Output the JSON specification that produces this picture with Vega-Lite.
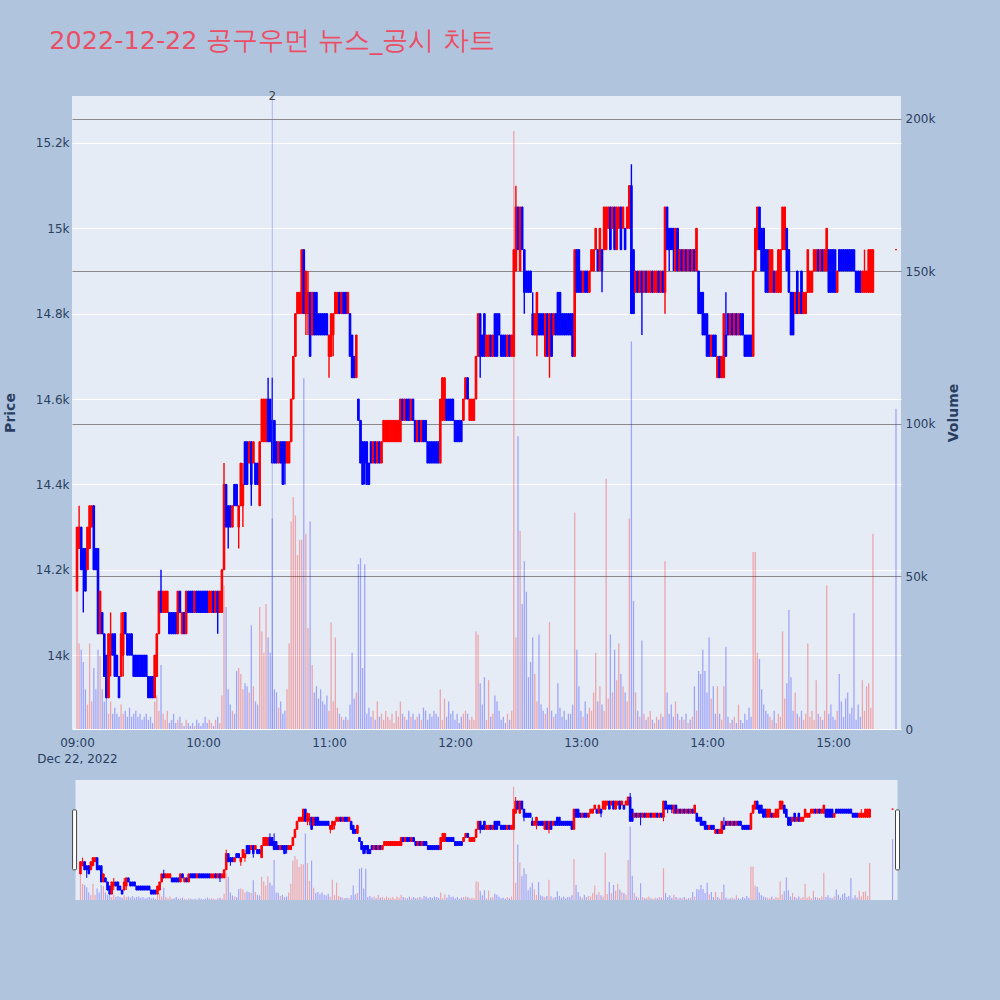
{
"$schema": "https://vega.github.io/schema/vega-lite/v6.json",
"background": "#b0c4de",
"padding": {"left": 3, "top": 28, "right": 40, "bottom": 108},
"bounds": "flush",
"center": true,
"spacing": 51,
"title": {"text": "2022-12-22 공구우먼 뉴스_공시 차트", "anchor": "start", "dx": 46, "font": "DejaVu Sans", "fontSize": 25.5, "fontWeight": "normal", "color": "#eb4f66", "offset": 36},
"config": {"view": {"stroke": null}, "axis": {"labelFont": "DejaVu Sans", "titleFont": "DejaVu Sans", "labelColor": "#2a3f5f", "titleColor": "#2a3f5f", "labelFontSize": 12}},
"datasets": {"news": [{"t": "2022-12-22T10:33", "n": "2"}], "handles": [{"t": "2022-12-22T08:57:10", "top": 14940, "bottom": 14200}, {"t": "2022-12-22T15:32:23", "top": 14940, "bottom": 14200}]},
"data": {"values": [
{"t":"2022-12-22T09:00","o":14150,"h":14300,"l":14150,"c":14300,"v":45000},
{"t":"2022-12-22T09:01","o":14250,"h":14350,"l":14250,"c":14300,"v":28000},
{"t":"2022-12-22T09:02","o":14300,"h":14300,"l":14200,"c":14200,"v":26000},
{"t":"2022-12-22T09:03","o":14250,"h":14250,"l":14100,"c":14200,"v":22000},
{"t":"2022-12-22T09:04","o":14250,"h":14250,"l":14150,"c":14150,"v":13000},
{"t":"2022-12-22T09:05","o":14200,"h":14300,"l":14200,"c":14300,"v":8000},
{"t":"2022-12-22T09:06","o":14250,"h":14350,"l":14250,"c":14350,"v":28000},
{"t":"2022-12-22T09:07","o":14300,"h":14350,"l":14300,"c":14350,"v":9000},
{"t":"2022-12-22T09:08","o":14350,"h":14350,"l":14200,"c":14200,"v":20000},
{"t":"2022-12-22T09:09","o":14250,"h":14250,"l":14200,"c":14200,"v":13000},
{"t":"2022-12-22T09:10","o":14250,"h":14250,"l":14050,"c":14050,"v":26000},
{"t":"2022-12-22T09:11","o":14050,"h":14150,"l":14050,"c":14150,"v":24000},
{"t":"2022-12-22T09:12","o":14100,"h":14100,"l":14050,"c":14050,"v":13000},
{"t":"2022-12-22T09:13","o":14050,"h":14050,"l":13950,"c":13950,"v":9000},
{"t":"2022-12-22T09:14","o":14000,"h":14000,"l":13900,"c":13900,"v":11000},
{"t":"2022-12-22T09:15","o":13900,"h":14050,"l":13900,"c":14050,"v":5000},
{"t":"2022-12-22T09:16","o":14000,"h":14100,"l":13950,"c":14050,"v":9000},
{"t":"2022-12-22T09:17","o":14050,"h":14050,"l":14000,"c":14000,"v":5000},
{"t":"2022-12-22T09:18","o":14050,"h":14050,"l":13950,"c":13950,"v":7000},
{"t":"2022-12-22T09:19","o":14000,"h":14000,"l":13950,"c":13950,"v":5000},
{"t":"2022-12-22T09:20","o":13950,"h":13950,"l":13900,"c":13900,"v":4000},
{"t":"2022-12-22T09:21","o":13950,"h":14100,"l":13950,"c":14050,"v":8000},
{"t":"2022-12-22T09:22","o":14000,"h":14100,"l":13950,"c":14100,"v":5000},
{"t":"2022-12-22T09:23","o":14100,"h":14100,"l":14050,"c":14050,"v":6000},
{"t":"2022-12-22T09:24","o":14050,"h":14050,"l":14000,"c":14000,"v":4000},
{"t":"2022-12-22T09:25","o":14050,"h":14050,"l":14000,"c":14000,"v":7000},
{"t":"2022-12-22T09:26","o":14050,"h":14050,"l":14000,"c":14000,"v":4000},
{"t":"2022-12-22T09:27","o":14000,"h":14000,"l":13950,"c":13950,"v":5000},
{"t":"2022-12-22T09:28","o":14000,"h":14000,"l":13950,"c":13950,"v":6000},
{"t":"2022-12-22T09:29","o":14000,"h":14000,"l":13950,"c":13950,"v":4000},
{"t":"2022-12-22T09:30","o":14000,"h":14000,"l":13950,"c":13950,"v":5000},
{"t":"2022-12-22T09:31","o":14000,"h":14000,"l":13950,"c":13950,"v":3000},
{"t":"2022-12-22T09:32","o":14000,"h":14000,"l":13950,"c":13950,"v":4000},
{"t":"2022-12-22T09:33","o":14000,"h":14000,"l":13950,"c":13950,"v":5000},
{"t":"2022-12-22T09:34","o":13950,"h":13950,"l":13900,"c":13900,"v":3000},
{"t":"2022-12-22T09:35","o":13950,"h":13950,"l":13900,"c":13900,"v":4000},
{"t":"2022-12-22T09:36","o":13950,"h":13950,"l":13900,"c":13900,"v":2000},
{"t":"2022-12-22T09:37","o":13900,"h":14000,"l":13900,"c":14000,"v":9000},
{"t":"2022-12-22T09:38","o":13950,"h":14050,"l":13950,"c":14050,"v":11000},
{"t":"2022-12-22T09:39","o":14050,"h":14150,"l":14050,"c":14150,"v":6000},
{"t":"2022-12-22T09:40","o":14150,"h":14200,"l":14100,"c":14100,"v":21000},
{"t":"2022-12-22T09:41","o":14100,"h":14150,"l":14100,"c":14150,"v":5000},
{"t":"2022-12-22T09:42","o":14100,"h":14150,"l":14100,"c":14150,"v":3000},
{"t":"2022-12-22T09:43","o":14100,"h":14150,"l":14100,"c":14150,"v":6000},
{"t":"2022-12-22T09:44","o":14100,"h":14100,"l":14050,"c":14050,"v":2000},
{"t":"2022-12-22T09:45","o":14100,"h":14100,"l":14050,"c":14050,"v":3000},
{"t":"2022-12-22T09:46","o":14100,"h":14100,"l":14050,"c":14050,"v":5000},
{"t":"2022-12-22T09:47","o":14100,"h":14100,"l":14050,"c":14050,"v":2000},
{"t":"2022-12-22T09:48","o":14050,"h":14150,"l":14050,"c":14150,"v":3000},
{"t":"2022-12-22T09:49","o":14150,"h":14150,"l":14100,"c":14100,"v":4000},
{"t":"2022-12-22T09:50","o":14050,"h":14100,"l":14050,"c":14100,"v":2000},
{"t":"2022-12-22T09:51","o":14100,"h":14100,"l":14050,"c":14050,"v":1000},
{"t":"2022-12-22T09:52","o":14050,"h":14150,"l":14050,"c":14150,"v":3000},
{"t":"2022-12-22T09:53","o":14150,"h":14150,"l":14100,"c":14100,"v":2000},
{"t":"2022-12-22T09:54","o":14150,"h":14150,"l":14100,"c":14100,"v":1000},
{"t":"2022-12-22T09:55","o":14150,"h":14150,"l":14100,"c":14100,"v":2000},
{"t":"2022-12-22T09:56","o":14100,"h":14150,"l":14100,"c":14150,"v":1000},
{"t":"2022-12-22T09:57","o":14150,"h":14150,"l":14100,"c":14100,"v":3000},
{"t":"2022-12-22T09:58","o":14150,"h":14150,"l":14100,"c":14100,"v":2000},
{"t":"2022-12-22T09:59","o":14150,"h":14150,"l":14100,"c":14100,"v":1000},
{"t":"2022-12-22T10:00","o":14150,"h":14150,"l":14100,"c":14100,"v":2000},
{"t":"2022-12-22T10:01","o":14150,"h":14150,"l":14100,"c":14100,"v":4000},
{"t":"2022-12-22T10:02","o":14150,"h":14150,"l":14100,"c":14100,"v":2000},
{"t":"2022-12-22T10:03","o":14100,"h":14150,"l":14100,"c":14150,"v":3000},
{"t":"2022-12-22T10:04","o":14100,"h":14150,"l":14100,"c":14150,"v":2000},
{"t":"2022-12-22T10:05","o":14150,"h":14150,"l":14100,"c":14100,"v":1000},
{"t":"2022-12-22T10:06","o":14100,"h":14150,"l":14100,"c":14150,"v":3000},
{"t":"2022-12-22T10:07","o":14150,"h":14150,"l":14050,"c":14100,"v":4000},
{"t":"2022-12-22T10:08","o":14100,"h":14150,"l":14100,"c":14150,"v":2000},
{"t":"2022-12-22T10:09","o":14100,"h":14200,"l":14100,"c":14200,"v":11000},
{"t":"2022-12-22T10:10","o":14200,"h":14450,"l":14200,"c":14400,"v":47000},
{"t":"2022-12-22T10:11","o":14400,"h":14400,"l":14300,"c":14300,"v":40000},
{"t":"2022-12-22T10:12","o":14350,"h":14350,"l":14250,"c":14300,"v":13000},
{"t":"2022-12-22T10:13","o":14350,"h":14350,"l":14300,"c":14300,"v":8000},
{"t":"2022-12-22T10:14","o":14300,"h":14350,"l":14300,"c":14350,"v":6000},
{"t":"2022-12-22T10:15","o":14400,"h":14400,"l":14350,"c":14350,"v":5000},
{"t":"2022-12-22T10:16","o":14400,"h":14400,"l":14350,"c":14350,"v":19000},
{"t":"2022-12-22T10:17","o":14300,"h":14350,"l":14250,"c":14350,"v":20000},
{"t":"2022-12-22T10:18","o":14350,"h":14450,"l":14350,"c":14450,"v":18000},
{"t":"2022-12-22T10:19","o":14350,"h":14450,"l":14300,"c":14400,"v":13000},
{"t":"2022-12-22T10:20","o":14500,"h":14500,"l":14400,"c":14400,"v":15000},
{"t":"2022-12-22T10:21","o":14500,"h":14500,"l":14400,"c":14400,"v":14000},
{"t":"2022-12-22T10:22","o":14450,"h":14500,"l":14450,"c":14500,"v":12000},
{"t":"2022-12-22T10:23","o":14500,"h":14500,"l":14350,"c":14400,"v":34000},
{"t":"2022-12-22T10:24","o":14450,"h":14500,"l":14450,"c":14500,"v":14000},
{"t":"2022-12-22T10:25","o":14450,"h":14450,"l":14400,"c":14400,"v":9000},
{"t":"2022-12-22T10:26","o":14450,"h":14450,"l":14400,"c":14400,"v":8000},
{"t":"2022-12-22T10:27","o":14350,"h":14500,"l":14350,"c":14500,"v":40000},
{"t":"2022-12-22T10:28","o":14500,"h":14600,"l":14500,"c":14600,"v":32000},
{"t":"2022-12-22T10:29","o":14500,"h":14600,"l":14500,"c":14600,"v":25000},
{"t":"2022-12-22T10:30","o":14500,"h":14600,"l":14500,"c":14600,"v":41000},
{"t":"2022-12-22T10:31","o":14600,"h":14650,"l":14500,"c":14500,"v":30000},
{"t":"2022-12-22T10:32","o":14600,"h":14600,"l":14500,"c":14500,"v":25000},
{"t":"2022-12-22T10:33","o":14550,"h":14650,"l":14450,"c":14450,"v":69000},
{"t":"2022-12-22T10:34","o":14550,"h":14550,"l":14450,"c":14450,"v":13000},
{"t":"2022-12-22T10:35","o":14500,"h":14500,"l":14450,"c":14450,"v":12000},
{"t":"2022-12-22T10:36","o":14450,"h":14500,"l":14450,"c":14500,"v":7000},
{"t":"2022-12-22T10:37","o":14500,"h":14500,"l":14450,"c":14450,"v":9000},
{"t":"2022-12-22T10:38","o":14500,"h":14500,"l":14400,"c":14400,"v":5000},
{"t":"2022-12-22T10:39","o":14500,"h":14500,"l":14400,"c":14450,"v":6000},
{"t":"2022-12-22T10:40","o":14450,"h":14500,"l":14450,"c":14500,"v":13000},
{"t":"2022-12-22T10:41","o":14450,"h":14500,"l":14450,"c":14500,"v":28000},
{"t":"2022-12-22T10:42","o":14500,"h":14600,"l":14500,"c":14600,"v":68000},
{"t":"2022-12-22T10:43","o":14600,"h":14700,"l":14600,"c":14700,"v":76000},
{"t":"2022-12-22T10:44","o":14700,"h":14800,"l":14700,"c":14800,"v":70000},
{"t":"2022-12-22T10:45","o":14800,"h":14850,"l":14800,"c":14850,"v":57000},
{"t":"2022-12-22T10:46","o":14800,"h":14850,"l":14800,"c":14850,"v":62000},
{"t":"2022-12-22T10:47","o":14800,"h":14950,"l":14800,"c":14950,"v":62000},
{"t":"2022-12-22T10:48","o":14950,"h":14950,"l":14800,"c":14800,"v":115000},
{"t":"2022-12-22T10:49","o":14800,"h":14900,"l":14750,"c":14900,"v":64000},
{"t":"2022-12-22T10:50","o":14800,"h":14900,"l":14750,"c":14850,"v":33000},
{"t":"2022-12-22T10:51","o":14850,"h":14850,"l":14700,"c":14700,"v":68000},
{"t":"2022-12-22T10:52","o":14750,"h":14850,"l":14750,"c":14850,"v":21000},
{"t":"2022-12-22T10:53","o":14850,"h":14850,"l":14750,"c":14750,"v":12000},
{"t":"2022-12-22T10:54","o":14850,"h":14850,"l":14750,"c":14750,"v":14000},
{"t":"2022-12-22T10:55","o":14800,"h":14800,"l":14750,"c":14750,"v":10000},
{"t":"2022-12-22T10:56","o":14800,"h":14800,"l":14750,"c":14750,"v":13000},
{"t":"2022-12-22T10:57","o":14800,"h":14800,"l":14750,"c":14750,"v":9000},
{"t":"2022-12-22T10:58","o":14800,"h":14800,"l":14750,"c":14750,"v":8000},
{"t":"2022-12-22T10:59","o":14800,"h":14800,"l":14750,"c":14750,"v":11000},
{"t":"2022-12-22T11:00","o":14700,"h":14750,"l":14650,"c":14750,"v":6000},
{"t":"2022-12-22T11:01","o":14700,"h":14800,"l":14700,"c":14800,"v":35000},
{"t":"2022-12-22T11:02","o":14750,"h":14800,"l":14700,"c":14800,"v":9000},
{"t":"2022-12-22T11:03","o":14800,"h":14850,"l":14800,"c":14850,"v":30000},
{"t":"2022-12-22T11:04","o":14800,"h":14850,"l":14800,"c":14850,"v":7000},
{"t":"2022-12-22T11:05","o":14850,"h":14850,"l":14800,"c":14800,"v":5000},
{"t":"2022-12-22T11:06","o":14800,"h":14850,"l":14800,"c":14850,"v":4000},
{"t":"2022-12-22T11:07","o":14850,"h":14850,"l":14800,"c":14800,"v":3000},
{"t":"2022-12-22T11:08","o":14850,"h":14850,"l":14800,"c":14800,"v":4000},
{"t":"2022-12-22T11:09","o":14800,"h":14850,"l":14800,"c":14850,"v":3000},
{"t":"2022-12-22T11:10","o":14800,"h":14800,"l":14700,"c":14700,"v":8000},
{"t":"2022-12-22T11:11","o":14750,"h":14750,"l":14650,"c":14650,"v":25000},
{"t":"2022-12-22T11:12","o":14700,"h":14700,"l":14650,"c":14650,"v":10000},
{"t":"2022-12-22T11:13","o":14650,"h":14750,"l":14650,"c":14750,"v":12000},
{"t":"2022-12-22T11:14","o":14600,"h":14600,"l":14550,"c":14550,"v":54000},
{"t":"2022-12-22T11:15","o":14550,"h":14550,"l":14450,"c":14450,"v":56000},
{"t":"2022-12-22T11:16","o":14500,"h":14500,"l":14400,"c":14400,"v":20000},
{"t":"2022-12-22T11:17","o":14500,"h":14500,"l":14400,"c":14450,"v":54000},
{"t":"2022-12-22T11:18","o":14500,"h":14500,"l":14400,"c":14400,"v":5000},
{"t":"2022-12-22T11:19","o":14450,"h":14450,"l":14400,"c":14400,"v":7000},
{"t":"2022-12-22T11:20","o":14500,"h":14500,"l":14450,"c":14450,"v":4000},
{"t":"2022-12-22T11:21","o":14450,"h":14500,"l":14450,"c":14500,"v":6000},
{"t":"2022-12-22T11:22","o":14500,"h":14500,"l":14450,"c":14450,"v":3000},
{"t":"2022-12-22T11:23","o":14450,"h":14500,"l":14450,"c":14500,"v":9000},
{"t":"2022-12-22T11:24","o":14500,"h":14500,"l":14450,"c":14450,"v":4000},
{"t":"2022-12-22T11:25","o":14450,"h":14500,"l":14450,"c":14500,"v":5000},
{"t":"2022-12-22T11:26","o":14500,"h":14550,"l":14500,"c":14550,"v":3000},
{"t":"2022-12-22T11:27","o":14500,"h":14550,"l":14500,"c":14550,"v":6000},
{"t":"2022-12-22T11:28","o":14500,"h":14550,"l":14500,"c":14550,"v":4000},
{"t":"2022-12-22T11:29","o":14500,"h":14550,"l":14500,"c":14550,"v":3000},
{"t":"2022-12-22T11:30","o":14500,"h":14550,"l":14500,"c":14550,"v":5000},
{"t":"2022-12-22T11:31","o":14500,"h":14550,"l":14500,"c":14550,"v":2000},
{"t":"2022-12-22T11:32","o":14500,"h":14550,"l":14500,"c":14550,"v":6000},
{"t":"2022-12-22T11:33","o":14500,"h":14550,"l":14500,"c":14550,"v":4000},
{"t":"2022-12-22T11:34","o":14500,"h":14600,"l":14500,"c":14600,"v":9000},
{"t":"2022-12-22T11:35","o":14600,"h":14600,"l":14550,"c":14550,"v":5000},
{"t":"2022-12-22T11:36","o":14550,"h":14600,"l":14550,"c":14600,"v":4000},
{"t":"2022-12-22T11:37","o":14600,"h":14600,"l":14550,"c":14550,"v":3000},
{"t":"2022-12-22T11:38","o":14600,"h":14600,"l":14550,"c":14550,"v":6000},
{"t":"2022-12-22T11:39","o":14550,"h":14600,"l":14550,"c":14600,"v":4000},
{"t":"2022-12-22T11:40","o":14600,"h":14600,"l":14550,"c":14550,"v":5000},
{"t":"2022-12-22T11:41","o":14550,"h":14550,"l":14500,"c":14500,"v":3000},
{"t":"2022-12-22T11:42","o":14500,"h":14550,"l":14500,"c":14550,"v":4000},
{"t":"2022-12-22T11:43","o":14550,"h":14550,"l":14500,"c":14500,"v":5000},
{"t":"2022-12-22T11:44","o":14500,"h":14550,"l":14500,"c":14550,"v":3000},
{"t":"2022-12-22T11:45","o":14550,"h":14550,"l":14500,"c":14500,"v":7000},
{"t":"2022-12-22T11:46","o":14550,"h":14550,"l":14500,"c":14500,"v":6000},
{"t":"2022-12-22T11:47","o":14500,"h":14500,"l":14450,"c":14450,"v":3000},
{"t":"2022-12-22T11:48","o":14500,"h":14500,"l":14450,"c":14450,"v":5000},
{"t":"2022-12-22T11:49","o":14500,"h":14500,"l":14450,"c":14450,"v":4000},
{"t":"2022-12-22T11:50","o":14500,"h":14500,"l":14450,"c":14450,"v":6000},
{"t":"2022-12-22T11:51","o":14500,"h":14500,"l":14450,"c":14450,"v":5000},
{"t":"2022-12-22T11:52","o":14500,"h":14500,"l":14450,"c":14450,"v":4000},
{"t":"2022-12-22T11:53","o":14450,"h":14600,"l":14450,"c":14600,"v":13000},
{"t":"2022-12-22T11:54","o":14550,"h":14650,"l":14550,"c":14650,"v":3000},
{"t":"2022-12-22T11:55","o":14550,"h":14650,"l":14550,"c":14650,"v":10000},
{"t":"2022-12-22T11:56","o":14600,"h":14600,"l":14550,"c":14550,"v":4000},
{"t":"2022-12-22T11:57","o":14600,"h":14600,"l":14550,"c":14550,"v":9000},
{"t":"2022-12-22T11:58","o":14600,"h":14600,"l":14550,"c":14550,"v":5000},
{"t":"2022-12-22T11:59","o":14600,"h":14600,"l":14550,"c":14550,"v":6000},
{"t":"2022-12-22T12:00","o":14550,"h":14550,"l":14500,"c":14500,"v":3000},
{"t":"2022-12-22T12:01","o":14550,"h":14550,"l":14500,"c":14500,"v":5000},
{"t":"2022-12-22T12:02","o":14550,"h":14550,"l":14500,"c":14500,"v":2000},
{"t":"2022-12-22T12:03","o":14550,"h":14550,"l":14500,"c":14500,"v":4000},
{"t":"2022-12-22T12:04","o":14550,"h":14600,"l":14550,"c":14600,"v":5000},
{"t":"2022-12-22T12:05","o":14600,"h":14650,"l":14600,"c":14650,"v":6000},
{"t":"2022-12-22T12:06","o":14650,"h":14650,"l":14600,"c":14600,"v":5000},
{"t":"2022-12-22T12:07","o":14550,"h":14600,"l":14550,"c":14600,"v":3000},
{"t":"2022-12-22T12:08","o":14550,"h":14600,"l":14550,"c":14600,"v":4000},
{"t":"2022-12-22T12:09","o":14550,"h":14600,"l":14550,"c":14600,"v":3000},
{"t":"2022-12-22T12:10","o":14600,"h":14700,"l":14600,"c":14700,"v":32000},
{"t":"2022-12-22T12:11","o":14700,"h":14800,"l":14700,"c":14800,"v":31000},
{"t":"2022-12-22T12:12","o":14800,"h":14800,"l":14650,"c":14700,"v":15000},
{"t":"2022-12-22T12:13","o":14750,"h":14750,"l":14700,"c":14700,"v":8000},
{"t":"2022-12-22T12:14","o":14800,"h":14800,"l":14700,"c":14700,"v":17000},
{"t":"2022-12-22T12:15","o":14700,"h":14750,"l":14700,"c":14750,"v":3000},
{"t":"2022-12-22T12:16","o":14700,"h":14750,"l":14700,"c":14750,"v":16000},
{"t":"2022-12-22T12:17","o":14750,"h":14750,"l":14700,"c":14700,"v":4000},
{"t":"2022-12-22T12:18","o":14700,"h":14750,"l":14700,"c":14750,"v":5000},
{"t":"2022-12-22T12:19","o":14800,"h":14800,"l":14700,"c":14700,"v":11000},
{"t":"2022-12-22T12:20","o":14800,"h":14800,"l":14700,"c":14700,"v":9000},
{"t":"2022-12-22T12:21","o":14800,"h":14800,"l":14750,"c":14750,"v":6000},
{"t":"2022-12-22T12:22","o":14750,"h":14750,"l":14700,"c":14700,"v":3000},
{"t":"2022-12-22T12:23","o":14750,"h":14750,"l":14700,"c":14700,"v":4000},
{"t":"2022-12-22T12:24","o":14750,"h":14750,"l":14700,"c":14700,"v":2000},
{"t":"2022-12-22T12:25","o":14700,"h":14750,"l":14700,"c":14750,"v":5000},
{"t":"2022-12-22T12:26","o":14750,"h":14750,"l":14700,"c":14700,"v":3000},
{"t":"2022-12-22T12:27","o":14700,"h":14750,"l":14700,"c":14750,"v":6000},
{"t":"2022-12-22T12:28","o":14700,"h":14950,"l":14700,"c":14950,"v":196000},
{"t":"2022-12-22T12:29","o":14900,"h":15100,"l":14900,"c":15050,"v":30000},
{"t":"2022-12-22T12:30","o":15050,"h":15050,"l":14950,"c":14950,"v":96000},
{"t":"2022-12-22T12:31","o":14900,"h":15050,"l":14900,"c":15050,"v":65000},
{"t":"2022-12-22T12:32","o":15050,"h":15050,"l":14950,"c":14950,"v":41000},
{"t":"2022-12-22T12:33","o":14950,"h":14950,"l":14800,"c":14850,"v":55000},
{"t":"2022-12-22T12:34","o":14900,"h":14900,"l":14850,"c":14850,"v":45000},
{"t":"2022-12-22T12:35","o":14900,"h":14900,"l":14850,"c":14850,"v":17000},
{"t":"2022-12-22T12:36","o":14900,"h":14900,"l":14850,"c":14850,"v":22000},
{"t":"2022-12-22T12:37","o":14800,"h":14850,"l":14750,"c":14750,"v":30000},
{"t":"2022-12-22T12:38","o":14750,"h":14800,"l":14750,"c":14800,"v":18000},
{"t":"2022-12-22T12:39","o":14750,"h":14850,"l":14700,"c":14850,"v":9000},
{"t":"2022-12-22T12:40","o":14800,"h":14800,"l":14750,"c":14750,"v":31000},
{"t":"2022-12-22T12:41","o":14800,"h":14800,"l":14750,"c":14750,"v":8000},
{"t":"2022-12-22T12:42","o":14800,"h":14800,"l":14750,"c":14750,"v":6000},
{"t":"2022-12-22T12:43","o":14700,"h":14800,"l":14700,"c":14800,"v":5000},
{"t":"2022-12-22T12:44","o":14800,"h":14800,"l":14700,"c":14700,"v":7000},
{"t":"2022-12-22T12:45","o":14700,"h":14800,"l":14650,"c":14800,"v":35000},
{"t":"2022-12-22T12:46","o":14800,"h":14800,"l":14700,"c":14700,"v":6000},
{"t":"2022-12-22T12:47","o":14750,"h":14800,"l":14750,"c":14800,"v":4000},
{"t":"2022-12-22T12:48","o":14800,"h":14800,"l":14750,"c":14750,"v":5000},
{"t":"2022-12-22T12:49","o":14850,"h":14850,"l":14750,"c":14750,"v":15000},
{"t":"2022-12-22T12:50","o":14850,"h":14850,"l":14750,"c":14750,"v":7000},
{"t":"2022-12-22T12:51","o":14800,"h":14800,"l":14750,"c":14750,"v":4000},
{"t":"2022-12-22T12:52","o":14800,"h":14800,"l":14750,"c":14750,"v":6000},
{"t":"2022-12-22T12:53","o":14800,"h":14800,"l":14750,"c":14750,"v":3000},
{"t":"2022-12-22T12:54","o":14800,"h":14800,"l":14750,"c":14750,"v":5000},
{"t":"2022-12-22T12:55","o":14800,"h":14800,"l":14750,"c":14750,"v":5000},
{"t":"2022-12-22T12:56","o":14800,"h":14800,"l":14700,"c":14700,"v":8000},
{"t":"2022-12-22T12:57","o":14700,"h":14950,"l":14700,"c":14950,"v":71000},
{"t":"2022-12-22T12:58","o":14950,"h":14950,"l":14850,"c":14850,"v":26000},
{"t":"2022-12-22T12:59","o":14950,"h":14950,"l":14850,"c":14850,"v":14000},
{"t":"2022-12-22T13:00","o":14900,"h":14900,"l":14850,"c":14850,"v":6000},
{"t":"2022-12-22T13:01","o":14850,"h":14900,"l":14850,"c":14900,"v":4000},
{"t":"2022-12-22T13:02","o":14900,"h":14900,"l":14850,"c":14850,"v":9000},
{"t":"2022-12-22T13:03","o":14900,"h":14900,"l":14850,"c":14850,"v":5000},
{"t":"2022-12-22T13:04","o":14850,"h":14900,"l":14850,"c":14900,"v":7000},
{"t":"2022-12-22T13:05","o":14900,"h":14950,"l":14900,"c":14950,"v":6000},
{"t":"2022-12-22T13:06","o":14900,"h":14950,"l":14900,"c":14950,"v":12000},
{"t":"2022-12-22T13:07","o":14950,"h":15000,"l":14950,"c":15000,"v":25000},
{"t":"2022-12-22T13:08","o":14950,"h":14950,"l":14900,"c":14900,"v":9000},
{"t":"2022-12-22T13:09","o":14900,"h":15000,"l":14900,"c":15000,"v":14000},
{"t":"2022-12-22T13:10","o":14950,"h":14950,"l":14850,"c":14900,"v":8000},
{"t":"2022-12-22T13:11","o":14950,"h":15050,"l":14950,"c":15050,"v":6000},
{"t":"2022-12-22T13:12","o":14950,"h":15050,"l":14950,"c":15050,"v":82000},
{"t":"2022-12-22T13:13","o":15000,"h":15050,"l":15000,"c":15050,"v":10000},
{"t":"2022-12-22T13:14","o":15050,"h":15050,"l":14950,"c":14950,"v":31000},
{"t":"2022-12-22T13:15","o":15000,"h":15050,"l":15000,"c":15050,"v":12000},
{"t":"2022-12-22T13:16","o":15050,"h":15050,"l":14950,"c":14950,"v":26000},
{"t":"2022-12-22T13:17","o":14950,"h":15050,"l":14950,"c":15050,"v":16000},
{"t":"2022-12-22T13:18","o":15000,"h":15050,"l":15000,"c":15050,"v":28000},
{"t":"2022-12-22T13:19","o":15050,"h":15050,"l":14950,"c":14950,"v":18000},
{"t":"2022-12-22T13:20","o":15000,"h":15050,"l":15000,"c":15050,"v":14000},
{"t":"2022-12-22T13:21","o":15000,"h":15000,"l":14950,"c":14950,"v":12000},
{"t":"2022-12-22T13:22","o":15000,"h":15050,"l":15000,"c":15050,"v":9000},
{"t":"2022-12-22T13:23","o":15000,"h":15100,"l":15000,"c":15100,"v":69000},
{"t":"2022-12-22T13:24","o":15100,"h":15150,"l":14800,"c":14800,"v":127000},
{"t":"2022-12-22T13:25","o":14950,"h":14950,"l":14800,"c":14800,"v":42000},
{"t":"2022-12-22T13:26","o":14850,"h":14900,"l":14850,"c":14900,"v":12000},
{"t":"2022-12-22T13:27","o":14900,"h":14900,"l":14850,"c":14850,"v":6000},
{"t":"2022-12-22T13:28","o":14850,"h":14900,"l":14850,"c":14900,"v":4000},
{"t":"2022-12-22T13:29","o":14900,"h":14900,"l":14750,"c":14850,"v":29000},
{"t":"2022-12-22T13:30","o":14850,"h":14900,"l":14850,"c":14900,"v":5000},
{"t":"2022-12-22T13:31","o":14900,"h":14900,"l":14850,"c":14850,"v":3000},
{"t":"2022-12-22T13:32","o":14850,"h":14900,"l":14850,"c":14900,"v":4000},
{"t":"2022-12-22T13:33","o":14850,"h":14900,"l":14850,"c":14900,"v":6000},
{"t":"2022-12-22T13:34","o":14900,"h":14900,"l":14850,"c":14850,"v":3000},
{"t":"2022-12-22T13:35","o":14850,"h":14900,"l":14850,"c":14900,"v":2000},
{"t":"2022-12-22T13:36","o":14850,"h":14900,"l":14850,"c":14900,"v":4000},
{"t":"2022-12-22T13:37","o":14900,"h":14900,"l":14850,"c":14850,"v":3000},
{"t":"2022-12-22T13:38","o":14850,"h":14900,"l":14850,"c":14900,"v":5000},
{"t":"2022-12-22T13:39","o":14900,"h":14900,"l":14850,"c":14850,"v":4000},
{"t":"2022-12-22T13:40","o":14850,"h":15050,"l":14800,"c":15050,"v":55000},
{"t":"2022-12-22T13:41","o":15050,"h":15050,"l":14950,"c":14950,"v":12000},
{"t":"2022-12-22T13:42","o":15000,"h":15000,"l":14900,"c":14950,"v":5000},
{"t":"2022-12-22T13:43","o":15000,"h":15000,"l":14950,"c":14950,"v":8000},
{"t":"2022-12-22T13:44","o":15000,"h":15000,"l":14900,"c":14950,"v":4000},
{"t":"2022-12-22T13:45","o":14900,"h":15000,"l":14900,"c":15000,"v":9000},
{"t":"2022-12-22T13:46","o":15000,"h":15000,"l":14900,"c":14900,"v":5000},
{"t":"2022-12-22T13:47","o":14900,"h":14950,"l":14900,"c":14950,"v":3000},
{"t":"2022-12-22T13:48","o":14950,"h":14950,"l":14900,"c":14900,"v":4000},
{"t":"2022-12-22T13:49","o":14900,"h":14950,"l":14900,"c":14950,"v":3000},
{"t":"2022-12-22T13:50","o":14950,"h":14950,"l":14900,"c":14900,"v":5000},
{"t":"2022-12-22T13:51","o":14900,"h":14950,"l":14900,"c":14950,"v":2000},
{"t":"2022-12-22T13:52","o":14950,"h":14950,"l":14900,"c":14900,"v":3000},
{"t":"2022-12-22T13:53","o":14900,"h":14950,"l":14900,"c":14950,"v":4000},
{"t":"2022-12-22T13:54","o":14950,"h":14950,"l":14900,"c":14900,"v":14000},
{"t":"2022-12-22T13:55","o":14900,"h":15000,"l":14900,"c":15000,"v":6000},
{"t":"2022-12-22T13:56","o":14900,"h":14900,"l":14800,"c":14800,"v":19000},
{"t":"2022-12-22T13:57","o":14850,"h":14850,"l":14800,"c":14800,"v":18000},
{"t":"2022-12-22T13:58","o":14850,"h":14850,"l":14750,"c":14750,"v":26000},
{"t":"2022-12-22T13:59","o":14800,"h":14800,"l":14750,"c":14750,"v":19000},
{"t":"2022-12-22T14:00","o":14800,"h":14800,"l":14700,"c":14700,"v":12000},
{"t":"2022-12-22T14:01","o":14750,"h":14750,"l":14700,"c":14700,"v":30000},
{"t":"2022-12-22T14:02","o":14700,"h":14750,"l":14700,"c":14750,"v":10000},
{"t":"2022-12-22T14:03","o":14750,"h":14750,"l":14700,"c":14700,"v":14000},
{"t":"2022-12-22T14:04","o":14750,"h":14750,"l":14700,"c":14700,"v":5000},
{"t":"2022-12-22T14:05","o":14650,"h":14700,"l":14650,"c":14700,"v":14000},
{"t":"2022-12-22T14:06","o":14700,"h":14700,"l":14650,"c":14650,"v":5000},
{"t":"2022-12-22T14:07","o":14650,"h":14700,"l":14650,"c":14700,"v":3000},
{"t":"2022-12-22T14:08","o":14650,"h":14800,"l":14650,"c":14800,"v":14000},
{"t":"2022-12-22T14:09","o":14750,"h":14850,"l":14700,"c":14700,"v":27000},
{"t":"2022-12-22T14:10","o":14800,"h":14800,"l":14750,"c":14750,"v":4000},
{"t":"2022-12-22T14:11","o":14750,"h":14800,"l":14750,"c":14800,"v":2000},
{"t":"2022-12-22T14:12","o":14800,"h":14800,"l":14750,"c":14750,"v":3000},
{"t":"2022-12-22T14:13","o":14750,"h":14800,"l":14750,"c":14800,"v":4000},
{"t":"2022-12-22T14:14","o":14800,"h":14800,"l":14750,"c":14750,"v":2000},
{"t":"2022-12-22T14:15","o":14750,"h":14800,"l":14750,"c":14800,"v":8000},
{"t":"2022-12-22T14:16","o":14800,"h":14800,"l":14750,"c":14750,"v":3000},
{"t":"2022-12-22T14:17","o":14800,"h":14800,"l":14750,"c":14750,"v":2000},
{"t":"2022-12-22T14:18","o":14750,"h":14750,"l":14700,"c":14700,"v":5000},
{"t":"2022-12-22T14:19","o":14750,"h":14750,"l":14700,"c":14700,"v":3000},
{"t":"2022-12-22T14:20","o":14750,"h":14750,"l":14700,"c":14700,"v":7000},
{"t":"2022-12-22T14:21","o":14750,"h":14750,"l":14700,"c":14700,"v":4000},
{"t":"2022-12-22T14:22","o":14700,"h":14900,"l":14700,"c":14900,"v":58000},
{"t":"2022-12-22T14:23","o":14900,"h":15000,"l":14900,"c":15000,"v":58000},
{"t":"2022-12-22T14:24","o":14950,"h":15050,"l":14950,"c":15050,"v":25000},
{"t":"2022-12-22T14:25","o":15050,"h":15050,"l":14950,"c":14950,"v":23000},
{"t":"2022-12-22T14:26","o":15000,"h":15000,"l":14900,"c":14900,"v":13000},
{"t":"2022-12-22T14:27","o":15000,"h":15000,"l":14900,"c":14900,"v":8000},
{"t":"2022-12-22T14:28","o":14950,"h":14950,"l":14850,"c":14850,"v":6000},
{"t":"2022-12-22T14:29","o":14950,"h":14950,"l":14850,"c":14850,"v":5000},
{"t":"2022-12-22T14:30","o":14850,"h":14950,"l":14850,"c":14950,"v":4000},
{"t":"2022-12-22T14:31","o":14850,"h":14950,"l":14850,"c":14950,"v":3000},
{"t":"2022-12-22T14:32","o":14900,"h":14900,"l":14850,"c":14850,"v":6000},
{"t":"2022-12-22T14:33","o":14850,"h":14900,"l":14850,"c":14900,"v":2000},
{"t":"2022-12-22T14:34","o":14850,"h":14950,"l":14850,"c":14950,"v":5000},
{"t":"2022-12-22T14:35","o":14850,"h":14950,"l":14850,"c":14950,"v":4000},
{"t":"2022-12-22T14:36","o":14950,"h":15050,"l":14950,"c":15050,"v":32000},
{"t":"2022-12-22T14:37","o":14950,"h":15050,"l":14950,"c":15050,"v":10000},
{"t":"2022-12-22T14:38","o":15000,"h":15000,"l":14900,"c":14900,"v":15000},
{"t":"2022-12-22T14:39","o":14950,"h":14950,"l":14850,"c":14850,"v":39000},
{"t":"2022-12-22T14:40","o":14850,"h":14850,"l":14750,"c":14750,"v":17000},
{"t":"2022-12-22T14:41","o":14850,"h":14850,"l":14750,"c":14750,"v":6000},
{"t":"2022-12-22T14:42","o":14800,"h":14850,"l":14800,"c":14850,"v":12000},
{"t":"2022-12-22T14:43","o":14900,"h":14900,"l":14800,"c":14800,"v":5000},
{"t":"2022-12-22T14:44","o":14800,"h":14850,"l":14800,"c":14850,"v":4000},
{"t":"2022-12-22T14:45","o":14900,"h":14900,"l":14800,"c":14800,"v":6000},
{"t":"2022-12-22T14:46","o":14800,"h":14850,"l":14800,"c":14850,"v":3000},
{"t":"2022-12-22T14:47","o":14800,"h":14850,"l":14800,"c":14850,"v":5000},
{"t":"2022-12-22T14:48","o":14850,"h":14950,"l":14850,"c":14950,"v":28000},
{"t":"2022-12-22T14:49","o":14850,"h":14900,"l":14850,"c":14900,"v":4000},
{"t":"2022-12-22T14:50","o":14850,"h":14900,"l":14850,"c":14900,"v":6000},
{"t":"2022-12-22T14:51","o":14900,"h":14950,"l":14900,"c":14950,"v":3000},
{"t":"2022-12-22T14:52","o":14900,"h":14950,"l":14900,"c":14950,"v":16000},
{"t":"2022-12-22T14:53","o":14950,"h":14950,"l":14900,"c":14900,"v":5000},
{"t":"2022-12-22T14:54","o":14900,"h":14950,"l":14900,"c":14950,"v":4000},
{"t":"2022-12-22T14:55","o":14950,"h":14950,"l":14900,"c":14900,"v":3000},
{"t":"2022-12-22T14:56","o":14900,"h":14950,"l":14900,"c":14950,"v":6000},
{"t":"2022-12-22T14:57","o":14900,"h":15000,"l":14900,"c":15000,"v":47000},
{"t":"2022-12-22T14:58","o":14950,"h":14950,"l":14850,"c":14850,"v":5000},
{"t":"2022-12-22T14:59","o":14950,"h":14950,"l":14850,"c":14850,"v":8000},
{"t":"2022-12-22T15:00","o":14950,"h":14950,"l":14850,"c":14850,"v":4000},
{"t":"2022-12-22T15:01","o":14950,"h":14950,"l":14850,"c":14850,"v":3000},
{"t":"2022-12-22T15:02","o":14850,"h":14900,"l":14850,"c":14900,"v":6000},
{"t":"2022-12-22T15:03","o":14950,"h":14950,"l":14900,"c":14900,"v":18000},
{"t":"2022-12-22T15:04","o":14950,"h":14950,"l":14900,"c":14900,"v":9000},
{"t":"2022-12-22T15:05","o":14950,"h":14950,"l":14900,"c":14900,"v":4000},
{"t":"2022-12-22T15:06","o":14950,"h":14950,"l":14900,"c":14900,"v":10000},
{"t":"2022-12-22T15:07","o":14950,"h":14950,"l":14900,"c":14900,"v":12000},
{"t":"2022-12-22T15:08","o":14950,"h":14950,"l":14900,"c":14900,"v":5000},
{"t":"2022-12-22T15:09","o":14950,"h":14950,"l":14900,"c":14900,"v":7000},
{"t":"2022-12-22T15:10","o":14950,"h":14950,"l":14900,"c":14900,"v":38000},
{"t":"2022-12-22T15:11","o":14900,"h":14900,"l":14850,"c":14850,"v":3000},
{"t":"2022-12-22T15:12","o":14900,"h":14900,"l":14850,"c":14850,"v":8000},
{"t":"2022-12-22T15:13","o":14900,"h":14900,"l":14850,"c":14850,"v":4000},
{"t":"2022-12-22T15:14","o":14850,"h":14900,"l":14850,"c":14900,"v":16000},
{"t":"2022-12-22T15:15","o":14850,"h":14950,"l":14850,"c":14900,"v":6000},
{"t":"2022-12-22T15:16","o":14850,"h":14900,"l":14850,"c":14900,"v":14000},
{"t":"2022-12-22T15:17","o":14850,"h":14950,"l":14850,"c":14950,"v":15000},
{"t":"2022-12-22T15:18","o":14850,"h":14950,"l":14850,"c":14950,"v":7000},
{"t":"2022-12-22T15:19","o":14850,"h":14950,"l":14850,"c":14950,"v":64000},
{"t":"2022-12-22T15:30","o":14950,"h":14950,"l":14950,"c":14950,"v":105000}
]},
"vconcat": [
{
"width": 829, "height": 633,
"view": {"fill": "#e5ecf6", "stroke": null},
"resolve": {"scale": {"y": "independent"}},
"layer": [
{
"mark": {"type": "bar", "size": 1.3, "opacity": 0.3},
"encoding": {
"x": {"field": "t", "type": "temporal", "scale": {"nice": false, "padding": 0, "domain": [{"year":2022,"month":12,"date":22,"hours":8,"minutes":57,"seconds":37},{"year":2022,"month":12,"date":22,"hours":15,"minutes":32,"seconds":23}]},
 "axis": {"title": null, "format": "%H:%M", "values": [{"year":2022,"month":12,"date":22,"hours":9},{"year":2022,"month":12,"date":22,"hours":10},{"year":2022,"month":12,"date":22,"hours":11},{"year":2022,"month":12,"date":22,"hours":12},{"year":2022,"month":12,"date":22,"hours":13},{"year":2022,"month":12,"date":22,"hours":14},{"year":2022,"month":12,"date":22,"hours":15}],
  "labelExpr": "datum.label == '09:00' ? ['09:00', 'Dec 22, 2022'] : datum.label", "grid": false, "ticks": false, "domain": false, "labelPadding": 8, "labelLineHeight": 16}},
"y": {"field": "v", "type": "quantitative", "scale": {"domain": [0, 207500], "nice": false},
 "axis": {"orient": "right", "title": "Volume", "titleAngle": 270, "titleFontWeight": "bold", "titleFontSize": 14, "titlePadding": 26, "values": [0, 50000, 100000, 150000, 200000], "format": "~s", "labelExpr": "datum.value === 0 ? '0' : datum.label", "grid": true, "gridColor": {"condition": {"test": "datum.value === 0", "value": "#ffffff"}, "value": "#8a8a8a"}, "gridWidth": 1, "ticks": false, "domain": false, "labelPadding": 4}},
"color": {"condition": {"test": "datum.c > datum.o", "value": "#ff0000"}, "value": "#0000ff"}
}
},
{
"layer": [
{
"mark": {"type": "rule", "strokeWidth": 1.4},
"encoding": {
"x": {"field": "t", "type": "temporal"},
"y": {"field": "l", "type": "quantitative", "scale": {"domain": [13827, 15310], "nice": false, "zero": false},
 "axis": {"title": "Price", "titleFontWeight": "bold", "titleFontSize": 14, "titlePadding": 18, "values": [14000, 14200, 14400, 14600, 14800, 15000, 15200], "format": "~s", "grid": true, "gridColor": "#ffffff", "gridWidth": 1, "ticks": false, "domain": false, "labelPadding": 3}},
"y2": {"field": "h"},
"color": {"condition": {"test": "datum.c >= datum.o", "value": "#ff0000"}, "value": "#0000ff"}
}
},
{
"mark": {"type": "bar", "size": 1.6, "strokeWidth": 1},
"encoding": {
"x": {"field": "t", "type": "temporal"},
"y": {"field": "o", "type": "quantitative"},
"y2": {"field": "c"},
"color": {"condition": {"test": "datum.c >= datum.o", "value": "#ff0000"}, "value": "#0000ff"},
"stroke": {"condition": {"test": "datum.c >= datum.o", "value": "#ff0000"}, "value": "#0000ff"}
}
},
{
"data": {"name": "news"},
"mark": {"type": "rule", "color": "#6f78f0", "opacity": 0.45, "strokeWidth": 1},
"encoding": {"x": {"field": "t", "type": "temporal"}}
},
{
"data": {"name": "news"},
"mark": {"type": "text", "font": "DejaVu Sans", "fontSize": 12, "color": "#444444", "baseline": "middle"},
"encoding": {"x": {"field": "t", "type": "temporal"}, "y": {"datum": 15310, "type": "quantitative"}, "text": {"field": "n"}}
}
]
}
]
},
{
"width": 822, "height": 120,
"view": {"fill": "#e5ecf6", "stroke": null},
"resolve": {"scale": {"y": "independent"}},
"layer": [
{
"mark": {"type": "bar", "size": 1.2, "opacity": 0.3},
"encoding": {
"x": {"field": "t", "type": "temporal", "axis": null, "scale": {"nice": false, "padding": 0, "domain": [{"year":2022,"month":12,"date":22,"hours":8,"minutes":57,"seconds":37},{"year":2022,"month":12,"date":22,"hours":15,"minutes":32,"seconds":23}]}},
"y": {"field": "v", "type": "quantitative", "axis": null, "scale": {"domain": [0, 207500], "nice": false}},
"color": {"condition": {"test": "datum.c > datum.o", "value": "#ff0000"}, "value": "#0000ff"}
}
},
{
"layer": [
{
"mark": {"type": "rule", "strokeWidth": 1},
"encoding": {
"x": {"field": "t", "type": "temporal"},
"y": {"field": "l", "type": "quantitative", "axis": null, "scale": {"domain": [13827, 15310], "nice": false, "zero": false}},
"y2": {"field": "h"},
"color": {"condition": {"test": "datum.c >= datum.o", "value": "#ff0000"}, "value": "#0000ff"}
}
},
{
"mark": {"type": "bar", "size": 1.6, "strokeWidth": 1},
"encoding": {
"x": {"field": "t", "type": "temporal"},
"y": {"field": "o", "type": "quantitative"},
"y2": {"field": "c"},
"color": {"condition": {"test": "datum.c >= datum.o", "value": "#ff0000"}, "value": "#0000ff"},
"stroke": {"condition": {"test": "datum.c >= datum.o", "value": "#ff0000"}, "value": "#0000ff"}
}
},
{
"data": {"name": "handles"},
"mark": {"type": "bar", "size": 4, "fill": "#ffffff", "stroke": "#444444", "strokeWidth": 1, "cornerRadius": 1},
"encoding": {"x": {"field": "t", "type": "temporal"}, "y": {"field": "top", "type": "quantitative"}, "y2": {"field": "bottom"}}
}
]
}
]
}
]
}
